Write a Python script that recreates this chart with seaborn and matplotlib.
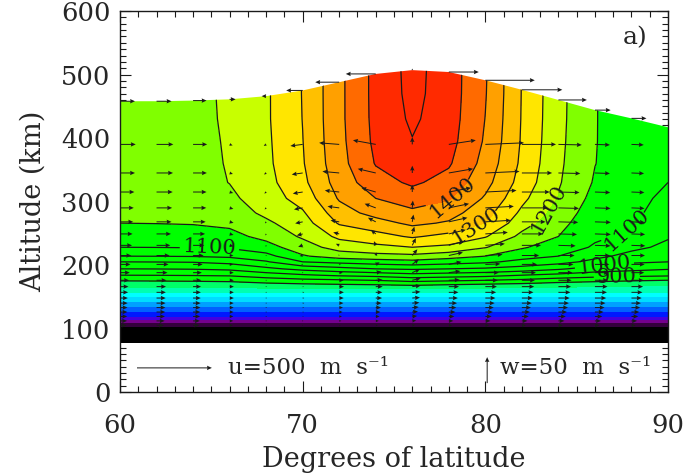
import numpy as np
import seaborn as sns
import matplotlib
matplotlib.use("Agg")
import matplotlib.pyplot as plt
from matplotlib.colors import ListedColormap, BoundaryNorm
from matplotlib.patches import Polygon
from matplotlib.ticker import MultipleLocator

# ---------------- data ----------------
lat = [60, 62, 64, 66, 68, 70, 72, 74, 76, 78, 80, 82, 84, 86, 88, 90]
alt = [77, 95, 102, 108, 113, 118, 126, 134, 142, 150, 157, 165, 175, 184,
       194, 205, 214, 228, 245, 266, 282, 305, 330, 360, 395, 430, 470, 510]

# temperature (K), one row per altitude in `alt`, one column per latitude
temp_rows = [
    [250] * 16,
    [300] * 16,
    [350] * 16,
    [400] * 16,
    [450] * 16,
    [500] * 16,
    [550] * 16,
    [600] * 16,
    [650] * 16,
    [700] * 16,
    [750] * 16,
    [800, 800, 801, 805, 810, 815, 820, 822, 825, 817, 810, 805, 800, 795, 790, 785],
    [850, 851, 853, 856, 870, 880, 885, 893, 908, 900, 892, 883, 867, 858, 850, 842],
    [900, 901, 903, 906, 925, 943, 958, 967, 983, 975, 967, 950, 936, 922, 915, 909],
    [950, 951, 953, 960, 988, 1015, 1033, 1050, 1057, 1050, 1043, 1029, 1007, 978, 965, 954],
    [1000, 1001, 1003, 1015, 1045, 1100, 1114, 1125, 1134, 1122, 1109, 1086, 1068, 1035, 1008, 1000],
    [1050, 1051, 1053, 1060, 1083, 1145, 1172, 1183, 1188, 1170, 1150, 1118, 1100, 1064, 1033, 1015],
    [1100, 1101, 1103, 1107, 1131, 1177, 1221, 1237, 1250, 1240, 1203, 1156, 1123, 1095, 1063, 1038],
    [1122, 1124, 1126, 1135, 1164, 1207, 1261, 1282, 1306, 1285, 1254, 1187, 1150, 1107, 1092, 1055],
    [1150, 1151, 1153, 1160, 1191, 1228, 1305, 1330, 1361, 1344, 1300, 1221, 1166, 1116, 1104, 1068],
    [1158, 1161, 1166, 1175, 1210, 1244, 1328, 1367, 1389, 1370, 1318, 1240, 1178, 1124, 1110, 1080],
    [1166, 1170, 1176, 1190, 1225, 1270, 1355, 1400, 1425, 1405, 1344, 1262, 1196, 1134, 1114, 1090],
    [1172, 1176, 1182, 1201, 1234, 1288, 1372, 1430, 1458, 1432, 1367, 1280, 1205, 1145, 1118, 1100],
    [1175, 1180, 1186, 1203, 1239, 1296, 1382, 1453, 1485, 1456, 1383, 1290, 1209, 1151, 1121, 1104],
    [1178, 1183, 1188, 1204, 1241, 1299, 1386, 1461, 1498, 1468, 1394, 1295, 1212, 1152, 1123, 1108],
    [1180, 1185, 1190, 1205, 1243, 1301, 1388, 1464, 1508, 1473, 1399, 1297, 1214, 1152, 1125, 1110],
    [1182, 1186, 1190, 1206, 1243, 1302, 1388, 1465, 1514, 1475, 1403, 1298, 1215, 1152, 1125, 1110],
    [1182, 1186, 1190, 1206, 1243, 1302, 1388, 1465, 1516, 1475, 1405, 1298, 1215, 1152, 1125, 1110],
]

# upper boundary of the model domain (km) at each latitude, and its floor
top_alt = [458, 458, 459, 461, 466, 475, 488, 501, 507, 504, 491, 476, 460, 444, 431, 417]
bottom_alt = 77

# wind arrows: rows of altitude (km); a last row sits on the top boundary
arrow_alt = [105, 112, 119, 126, 133, 140, 148, 157, 166, 176, 188, 201,
             215, 231, 249, 268, 290, 315, 345, 390]

# meridional wind u (m/s, + poleward); rows = arrow_alt, then the top row
u_ms = [
    [45, 50, 42, 22, 3, 5, 10, 15, 20, 22, 25, 28, 30, 30, 28, 25],
    [47, 54, 45, 24, 3, 6, 14, 20, 26, 30, 34, 37, 40, 40, 37, 33],
    [48, 56, 47, 25, 3, 7, 18, 26, 32, 37, 42, 46, 49, 49, 45, 40],
    [49, 58, 48, 26, 3, 8, 22, 31, 38, 44, 50, 54, 57, 57, 52, 46],
    [50, 59, 49, 27, 3, 9, 25, 35, 43, 50, 56, 60, 64, 64, 58, 51],
    [51, 60, 50, 27, 3, 10, 28, 39, 47, 55, 62, 66, 70, 70, 63, 56],
    [52, 61, 51, 28, 3, 10, 30, 42, 51, 60, 67, 72, 75, 75, 68, 60],
    [54, 62, 52, 28, 3, 10, 31, 44, 54, 64, 72, 77, 80, 80, 73, 64],
    [56, 63, 53, 28, 3, 8, 32, 46, 56, 68, 77, 82, 84, 84, 77, 68],
    [60, 66, 55, 28, 3, 5, 30, 45, 56, 72, 83, 87, 88, 87, 81, 71],
    [65, 73, 58, 27, 3, 0, 24, 38, 52, 77, 90, 94, 94, 92, 85, 74],
    [70, 80, 64, 24, 2, -10, 12, 26, 44, 84, 100, 102, 100, 96, 88, 76],
    [75, 87, 70, 25, 0, -20, -5, 8, 34, 94, 115, 115, 108, 100, 90, 78],
    [80, 92, 75, 26, -2, -30, -22, -12, 24, 104, 130, 128, 115, 104, 92, 77],
    [84, 96, 80, 26, -5, -40, -40, -32, 14, 114, 150, 142, 124, 106, 91, 74],
    [88, 100, 84, 26, -8, -50, -58, -52, 8, 124, 170, 158, 132, 106, 89, 70],
    [92, 104, 88, 25, -10, -58, -78, -74, 4, 135, 190, 172, 137, 104, 87, 66],
    [96, 108, 90, 24, -12, -66, -96, -96, 0, 148, 208, 186, 141, 102, 86, 63],
    [100, 110, 92, 22, -14, -73, -112, -120, 0, 162, 228, 202, 146, 100, 84, 60],
    [105, 112, 94, 20, -16, -82, -134, -152, 0, 180, 258, 228, 156, 100, 82, 56],
    [100, 100, 90, 40, -30, -110, -160, -200, 0, 200, 330, 270, 190, 105, 100, 40],
]

# vertical wind w (m/s, + upward); same layout as u_ms
w_ms = [
    [0, 0, 0, 0, 0, 0, 0, 0, 1, 0, 0, 0, 0, 0, 0, 0],
    [0, 0, 0, 0, 0, 0, 0, 0, 1, 0, 0, 0, 0, 0, 0, 0],
    [0, 0, 0, 0, 0, 0, 0, 0, 1, 0, 0, 0, 0, 0, 0, 0],
    [0, 0, 0, 0, 0, 0, 0, 0, 1, 0, 0, 0, 0, 0, 0, 0],
    [0, 0, 0, 0, 0, 0, 0, 0, 1, 0, 0, 0, 0, 0, 0, 0],
    [0, 0, 0, 0, 0, 0, 0, 0, 1, 0, 0, 0, 0, 0, 0, 0],
    [0, 0, 0, 0, 0, 0, 0, 0, 1, 0, 0, 0, 0, 0, 0, 0],
    [0, 0, 0, 0, 0, 0, 0, 0, 1, 0, 0, 0, 0, 0, 0, 0],
    [0, 0, 0, 0, 0, 0, 0, 0, 2, 0, 0, 0, 0, 0, 0, 0],
    [0, 0, 0, 0, 0, 0, 0, 1, 4, 1, 0, 0, 0, 0, 0, 0],
    [0, 0, 0, 0, 0, 0, 0, 2, 7, 3, 0, 0, 0, 0, 0, 0],
    [0, 0, 0, 0, 0, 0, 1, 4, 10, 5, 1, 0, 0, 0, 0, 0],
    [0, 0, 0, 0, 0, -1, 2, 6, 12, 6, 2, 0, 0, 0, 0, 0],
    [0, 0, 0, -2, -3, -3, 3, 8, 14, 8, 3, 0, -1, -1, -1, 0],
    [0, 0, 0, -2, -3, -3, 3, 8, 14, 8, 3, 0, -1, -1, -1, 0],
    [0, 0, 0, -2, -3, -3, 3, 8, 14, 8, 3, 0, -1, -1, -1, 0],
    [0, 0, 0, -2, -3, -3, 3, 8, 14, 8, 3, 0, -1, -1, -1, 0],
    [0, 0, 0, -2, -3, -3, 3, 8, 14, 8, 3, 0, -1, -1, -1, 0],
    [0, 0, 0, -2, -3, -3, 3, 8, 14, 8, 3, 0, -1, -1, -1, 0],
    [0, 0, 0, -2, -3, -3, 3, 8, 14, 8, 3, 0, -1, -1, -1, 0],
    [0, 0, 0, 0, 0, 0, 0, 0, 3, 0, 0, 0, 0, 0, 0, 0],
]

# reference arrows
ref_u = 500   # m/s
ref_w = 50    # m/s

line_levels = [850, 900, 950, 1000, 1050, 1100, 1150, 1200, 1250,
               1300, 1350, 1400, 1450, 1500]
label_levels = [900, 1000, 1100, 1200, 1300, 1400]
label_pos = [(87.2, 180), (86.5, 203), (64.9, 228), (87.8, 254),
             (83.5, 287), (79.5, 262), (78.3, 305)]

fill_levels = [0, 350, 400, 450, 500, 550, 600, 650, 700, 750, 800, 850,
               1150, 1200, 1250, 1300, 1350, 1400, 1450, 1700]
fill_colors = ["#000000", "#34003c", "#74008c", "#4400e0", "#0018ff",
               "#0060ff", "#00a0ff", "#00dcff", "#00ffff", "#00ffb0",
               "#00ff68", "#00ff00", "#80ff00", "#c8ff00", "#ffe600",
               "#ffc000", "#ffa000", "#ff6a00", "#ff2a00"]

# ---------------- drawing ----------------
sns.set_theme(style="ticks")
plt.rcParams["font.family"] = ["DejaVu Serif"]

fig = plt.figure(figsize=(6.85, 4.75), dpi=100)
ax = fig.add_axes([0.1752, 0.1747, 0.8, 0.802])

X, Z = np.meshgrid(lat, alt)
T = np.array(temp_rows, dtype=float)

cmap = ListedColormap(fill_colors)
norm = BoundaryNorm(fill_levels, cmap.N)

verts = [(lat[0], bottom_alt), (lat[-1], bottom_alt)] + \
        [(la, ta) for la, ta in zip(lat[::-1], top_alt[::-1])]
domain = Polygon(verts, closed=True, transform=ax.transData,
                 facecolor="none", edgecolor="none")
ax.add_patch(domain)

cf = ax.contourf(X, Z, T, levels=fill_levels, cmap=cmap, norm=norm, zorder=1)
cf.set_clip_path(domain)

plain_levels = [v for v in line_levels if v not in label_levels]
cl_plain = ax.contour(X, Z, T, levels=plain_levels, colors="k",
                      linewidths=0.9, zorder=2)
cl_plain.set_clip_path(domain)
cl_lab = ax.contour(X, Z, T, levels=label_levels, colors="k",
                    linewidths=0.9, zorder=2)
cl_lab.set_clip_path(domain)
ax.clabel(cl_lab, manual=label_pos, fmt="%d", fontsize=15, inline=True,
          inline_spacing=3, colors="k")

# arrows (scaled so that 500 m/s spans 4.1 deg and 50 m/s spans 41 km)
ku = 4.1 / ref_u
kw = 41.0 / ref_w
lat_a = np.array(lat, dtype=float)
top_a = np.array(top_alt, dtype=float)
xs, zs = [], []
for a in arrow_alt:
    xs.append(lat_a)
    zs.append(np.where(a < top_a - 4, a, np.nan))
xs.append(lat_a)
zs.append(top_a)
XA = np.array(xs)
ZA = np.array(zs)
UA = np.array(u_ms, dtype=float) * ku
WA = np.array(w_ms, dtype=float) * kw
ok = np.isfinite(ZA)
qkw = dict(angles="xy", scale_units="xy", scale=1, pivot="tail", color="k",
           width=0.0018, headwidth=4.5, headlength=5, headaxislength=4.5,
           zorder=3)
ax.quiver(XA[ok], ZA[ok], UA[ok], WA[ok], **qkw)

# reference arrows
ax.quiver([60.93, 80.1], [38, 14], [ref_u * ku, 0], [0, ref_w * kw], **qkw)
ax.text(65.9, 38, "u=500  m  s\u207b\u00b9", fontsize=16.5, va="center", ha="left")
ax.text(80.8, 38, "w=50  m  s\u207b\u00b9", fontsize=16.5, va="center", ha="left")
ax.text(0.94, 0.93, "a)", transform=ax.transAxes, fontsize=18,
        ha="center", va="center")

ax.set_xlim(60, 90)
ax.set_ylim(0, 600)
ax.set_xticks([60, 70, 80, 90])
ax.set_yticks([0, 100, 200, 300, 400, 500, 600])
ax.xaxis.set_minor_locator(MultipleLocator(1))
ax.yaxis.set_minor_locator(MultipleLocator(10))
ax.tick_params(which="both", direction="in", top=True, right=True,
               color="k", width=0.8, labelsize=18.5)
ax.tick_params(which="major", length=8)
ax.tick_params(which="minor", length=4)
ax.tick_params(axis="x", pad=15)
ax.tick_params(axis="y", pad=7)
for s in ax.spines.values():
    s.set_color("k")
    s.set_linewidth(1.0)
ax.set_xlabel("Degrees of latitude", fontsize=19.5, labelpad=6)
ax.set_ylabel("Altitude (km)", fontsize=19.5, labelpad=10)
ax.grid(False)

fig.savefig("out.png", dpi=100)
